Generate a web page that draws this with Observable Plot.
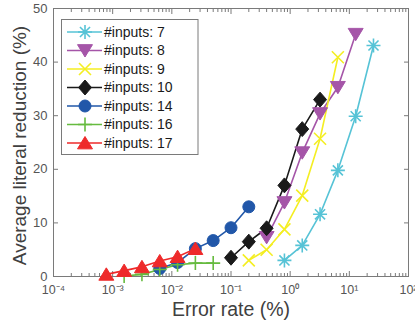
<!DOCTYPE html>
<html>
<head>
<meta charset="utf-8">
<script src="https://cdn.jsdelivr.net/npm/d3@7"></script>
<script src="https://cdn.jsdelivr.net/npm/@observablehq/plot@0.6"></script>
<style>
  html, body { margin: 0; padding: 0; background: #fff; }
  #chart { width: 415px; height: 324px; }
</style>
</head>
<body>
<div id="chart"></div>
<script>
// ---- data ----
const seriesNames = ["#inputs: 7", "#inputs: 8", "#inputs: 9", "#inputs: 10", "#inputs: 14", "#inputs: 16", "#inputs: 17"];
const errRate7  = [0.8, 1.6, 3.2, 6.4, 12.8, 25.6];
const reduce7   = [3.0, 5.8, 11.6, 19.8, 29.9, 43.1];
const errRate8  = [0.4, 0.8, 1.6, 3.2, 6.4, 12.8];
const reduce8   = [7.3, 13.8, 23.1, 30.4, 35.3, 45.2];
const errRate9  = [0.2, 0.4, 0.8, 1.6, 3.2, 6.4];
const reduce9   = [3.0, 5.0, 8.8, 15.1, 25.7, 40.9];
const errRate10 = [0.1, 0.2, 0.4, 0.8, 1.6, 3.2];
const reduce10  = [3.5, 6.5, 9.0, 17.0, 27.5, 33.0];
const errRate14 = [0.00625, 0.0125, 0.025, 0.05, 0.1, 0.2];
const reduce14  = [1.5, 2.6, 5.2, 6.7, 9.1, 13.0];
const errRate16 = [0.0015625, 0.003125, 0.00625, 0.0125, 0.025, 0.05];
const reduce16  = [0.1, 0.4, 1.3, 2.2, 2.5, 2.5];
const errRate17 = [0.00078125, 0.0015625, 0.003125, 0.00625, 0.0125, 0.025];
const reduce17  = [0.4, 1.1, 1.8, 2.9, 3.7, 5.2];
const xTicks = [1e-4, 1e-3, 1e-2, 1e-1, 1e0, 1e1, 1e2];
const yTicks = [0, 10, 20, 30, 40, 50];
const xLabel = "Error rate (%)";
const yLabel = "Average literal reduction (%)";

// ---- symbols ----
const sz = s => Math.sqrt(s / Math.PI);
const triUp = {draw(c, s) { const r = sz(s); c.moveTo(0, -r); c.lineTo(r * 1.15, r * 0.9); c.lineTo(-r * 1.15, r * 0.9); c.closePath(); }};
const triDown = {draw(c, s) { const r = sz(s); c.moveTo(0, r); c.lineTo(r * 1.15, -r * 0.9); c.lineTo(-r * 1.15, -r * 0.9); c.closePath(); }};
const diamondSym = {draw(c, s) { const r = sz(s); c.moveTo(0, -r * 1.15); c.lineTo(r, 0); c.lineTo(0, r * 1.15); c.lineTo(-r, 0); c.closePath(); }};
const circleSym = {draw(c, s) { const r = sz(s); c.moveTo(r, 0); c.arc(0, 0, r, 0, 2 * Math.PI); }};
const plusSym = {draw(c, s) { const r = sz(s); c.moveTo(-r, 0); c.lineTo(r, 0); c.moveTo(0, -r); c.lineTo(0, r); }};
const timesSym = {draw(c, s) { const r = sz(s) * 0.8; c.moveTo(-r, -r); c.lineTo(r, r); c.moveTo(r, -r); c.lineTo(-r, r); }};
const asteriskSym = {draw(c, s) { const r = sz(s); const d = r * 0.72; c.moveTo(-r, 0); c.lineTo(r, 0); c.moveTo(0, -r); c.lineTo(0, r); c.moveTo(-d, -d); c.lineTo(d, d); c.moveTo(d, -d); c.lineTo(-d, d); }};

const series = [
  {name: seriesNames[0], x: errRate7,  y: reduce7,  color: "#56c3d6", sym: asteriskSym, filled: false, r: 7},
  {name: seriesNames[1], x: errRate8,  y: reduce8,  color: "#a555a8", sym: triDown,     filled: true,  r: 6.5},
  {name: seriesNames[2], x: errRate9,  y: reduce9,  color: "#f4ee22", sym: timesSym,    filled: false, r: 7.5},
  {name: seriesNames[3], x: errRate10, y: reduce10, color: "#1a1a1a", sym: diamondSym,  filled: true,  r: 6.5},
  {name: seriesNames[4], x: errRate14, y: reduce14, color: "#2157a9", sym: circleSym,   filled: true,  r: 6},
  {name: seriesNames[5], x: errRate16, y: reduce16, color: "#66bb3f", sym: plusSym,     filled: false, r: 7},
  {name: seriesNames[6], x: errRate17, y: reduce17, color: "#ee2a2a", sym: triUp,       filled: true,  r: 6.5}
];
series.forEach(s => s.data = s.x.map((v, i) => ({x: v, y: s.y[i]})));

const minorTicks = [];
for (let e = -4; e < 2; e++) for (let k = 2; k <= 9; k++) minorTicks.push(k * Math.pow(10, e));

const supMap = {"-": "\u207B", "0": "\u2070", "1": "\u00B9", "2": "\u00B2", "3": "\u00B3", "4": "\u2074"};
const fmtPow = d => "10" + String(Math.round(Math.log10(d))).split("").map(ch => supMap[ch]).join("");

const font = "'Liberation Sans', Arial, Helvetica, sans-serif";
const axisGray = "#7a7a7a";

const marks = [
  Plot.frame({stroke: axisGray, strokeWidth: 1}),
  Plot.axisX({anchor: "bottom", ticks: xTicks, tickSize: 0, tickPadding: 9, tickFormat: fmtPow, label: null, fontSize: 12.5, fill: "#555"}),
  Plot.axisX({anchor: "bottom", ticks: xTicks, tickSize: -5, tickFormat: () => "", label: null, stroke: axisGray}),
  Plot.axisX({anchor: "bottom", ticks: minorTicks, tickSize: -3, tickFormat: () => "", label: null, stroke: axisGray}),
  Plot.axisX({anchor: "top", ticks: xTicks, tickSize: -5, tickFormat: () => "", label: null, stroke: axisGray}),
  Plot.axisX({anchor: "top", ticks: minorTicks, tickSize: -3, tickFormat: () => "", label: null, stroke: axisGray}),
  Plot.axisY({anchor: "left", ticks: yTicks, tickSize: 0, tickPadding: 6, label: null, fontSize: 13, fill: "#555"}),
  Plot.axisY({anchor: "left", ticks: yTicks, tickSize: -5, tickFormat: () => "", label: null, stroke: axisGray}),
  Plot.axisY({anchor: "right", ticks: yTicks, tickSize: -5, tickFormat: () => "", label: null, stroke: axisGray}),
  Plot.text([xLabel], {frameAnchor: "bottom", dy: 33, text: d => d, fontSize: 19.5, fill: "#404040", lineAnchor: "middle", textAnchor: "middle"}),
  Plot.text([yLabel], {frameAnchor: "left", dx: -34, dy: 3, text: d => d, fontSize: 19, fill: "#404040", rotate: -90, lineAnchor: "middle", textAnchor: "middle"})
];
for (const s of series) {
  marks.push(Plot.line(s.data, {x: "x", y: "y", stroke: s.color, strokeWidth: 1.6}));
}
for (const s of series) {
  marks.push(Plot.dot(s.data, {x: "x", y: "y", r: s.r, symbol: s.sym,
    fill: s.filled ? s.color : "none", stroke: s.color, strokeWidth: s.filled ? 1 : 1.6}));
}

const plot = Plot.plot({
  width: 415,
  height: 324,
  marginLeft: 53,
  marginRight: 7,
  marginTop: 8,
  marginBottom: 48,
  style: {fontFamily: font, fontSize: "12px", background: "#fff", color: "#444", overflow: "visible"},
  x: {type: "log", domain: [1e-4, 1e2], axis: null},
  y: {domain: [0, 50], axis: null},
  marks
});
document.getElementById("chart").appendChild(plot);

// ---- legend (inside the frame, upper left) ----
const svg = d3.select(plot);
const lg = svg.append("g").attr("font-family", font).attr("text-anchor", "start");
const bx = 61.5, by = 19.5, bw = 136.5, bh = 135;
lg.append("rect").attr("x", bx).attr("y", by).attr("width", bw).attr("height", bh)
  .attr("fill", "#fff").attr("stroke", axisGray).attr("stroke-width", 1);
series.forEach((s, i) => {
  const cy = 32 + i * 18.5;
  lg.append("line").attr("x1", 67).attr("x2", 102).attr("y1", cy).attr("y2", cy)
    .attr("stroke", s.color).attr("stroke-width", 1.6);
  lg.append("path").attr("transform", `translate(85,${cy})`)
    .attr("d", d3.symbol(s.sym, Math.PI * s.r * s.r)())
    .attr("fill", s.filled ? s.color : "none").attr("stroke", s.color).attr("stroke-width", s.filled ? 1 : 1.6);
  lg.append("text").attr("x", 104).attr("y", cy).attr("dy", "0.35em").attr("text-anchor", "start")
    .attr("font-size", 14).attr("fill", "#1a1a1a").text(s.name);
});
</script>
</body>
</html>
